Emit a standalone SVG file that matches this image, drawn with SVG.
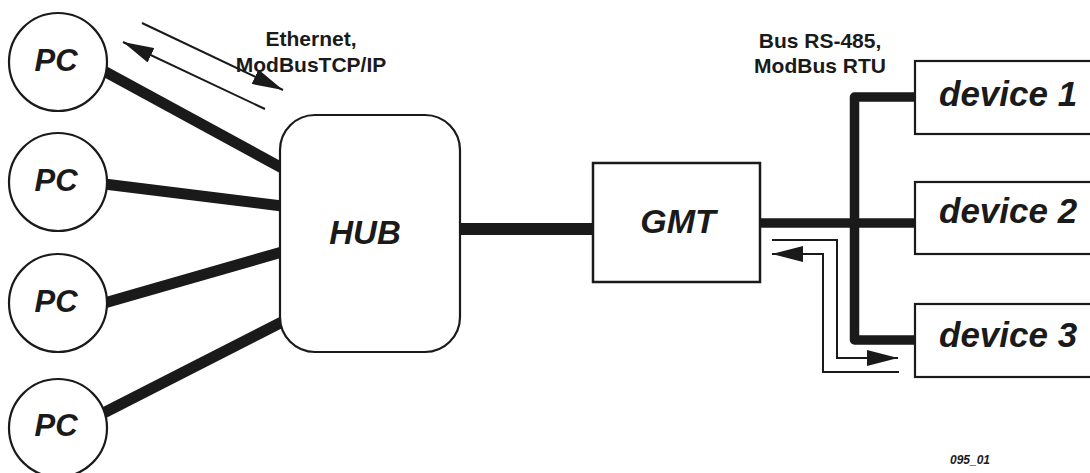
<svg xmlns="http://www.w3.org/2000/svg" width="1090" height="473" viewBox="0 0 1090 473">
  <style>
    .bg { fill: #ffffff; }
    .node { fill: #ffffff; stroke: #1a1a1a; stroke-width: 2.2; }
    .thick { stroke: #1a1a1a; stroke-width: 11; fill: none; }
    .bus { stroke: #1a1a1a; stroke-width: 9.5; fill: none; stroke-linejoin: round; }
    .thin { stroke: #1a1a1a; stroke-width: 2; fill: none; }
    .lbl { font-family: "Liberation Sans", Arial, sans-serif; font-weight: bold; font-style: italic; fill: #1a1a1a; }
    .cap { font-family: "Liberation Sans", Arial, sans-serif; font-weight: bold; font-size: 21px; fill: #1a1a1a; text-anchor: middle; }
  </style>
  <defs>
    <marker id="ah" viewBox="0 0 31 16" refX="31" refY="8" markerWidth="31" markerHeight="16" markerUnits="userSpaceOnUse" orient="auto">
      <path d="M0,0 L31,8 L0,16 z" fill="#1a1a1a"/>
    </marker>
  </defs>
  <rect class="bg" x="0" y="0" width="1090" height="473"/>

  <g id="connectors">
    <line class="thick" x1="80" y1="58" x2="282" y2="168"/>
    <line class="thick" x1="80" y1="181" x2="282" y2="206"/>
    <line class="thick" x1="80" y1="310" x2="282" y2="252"/>
    <line class="thick" x1="80" y1="425" x2="282" y2="322"/>
    <line class="thick" x1="459" y1="229" x2="594" y2="229" style="stroke-width:12"/>
    <path class="bus" d="M759,223 H916"/>
    <path class="bus" d="M916,97 H854.5 V340 H916"/>
    <line class="thin" x1="142" y1="23" x2="283" y2="90" marker-end="url(#ah)"/>
    <line class="thin" x1="265" y1="109" x2="123" y2="42" marker-end="url(#ah)"/>
    <path class="thin" d="M772,240 H837 V358 H898" marker-end="url(#ah)"/>
    <path class="thin" d="M899,372 H823 V254 H772" marker-end="url(#ah)"/>
  </g>

  <g id="pc1">
    <circle class="node" cx="58" cy="62" r="49"/>
    <text class="lbl" x="56" y="71" font-size="31" text-anchor="middle">PC</text>
  </g>
  <g id="pc2">
    <circle class="node" cx="58" cy="182" r="49"/>
    <text class="lbl" x="56" y="191" font-size="31" text-anchor="middle">PC</text>
  </g>
  <g id="pc3">
    <circle class="node" cx="58" cy="303" r="49"/>
    <text class="lbl" x="56" y="312" font-size="31" text-anchor="middle">PC</text>
  </g>
  <g id="pc4">
    <circle class="node" cx="58" cy="428" r="49"/>
    <text class="lbl" x="56" y="436" font-size="31" text-anchor="middle">PC</text>
  </g>

  <g id="hub">
    <rect class="node" x="280" y="115" width="180" height="237" rx="35" ry="35"/>
    <text class="lbl" x="365" y="244" font-size="33" text-anchor="middle">HUB</text>
  </g>

  <g id="gmt">
    <rect class="node" x="593" y="163" width="167" height="119" style="stroke-width:2.5"/>
    <text class="lbl" x="678" y="233" font-size="34" text-anchor="middle">GMT</text>
  </g>

  <g id="device1">
    <rect class="node" x="915" y="61" width="200" height="73"/>
    <text class="lbl" x="939" y="106" font-size="35">device 1</text>
  </g>
  <g id="device2">
    <rect class="node" x="915" y="182" width="200" height="72"/>
    <text class="lbl" x="939" y="223" font-size="35">device 2</text>
  </g>
  <g id="device3">
    <rect class="node" x="915" y="304" width="200" height="73"/>
    <text class="lbl" x="939" y="347" font-size="35">device 3</text>
  </g>

  <g id="labels">
    <text class="cap" x="311" y="46">Ethernet,</text>
    <text class="cap" x="311" y="72">ModBusTCP/IP</text>
    <text class="cap" x="820" y="48">Bus RS-485,</text>
    <text class="cap" x="820" y="73">ModBus RTU</text>
    <text class="lbl" x="970" y="464" font-size="12" text-anchor="middle">095_01</text>
  </g>
</svg>
